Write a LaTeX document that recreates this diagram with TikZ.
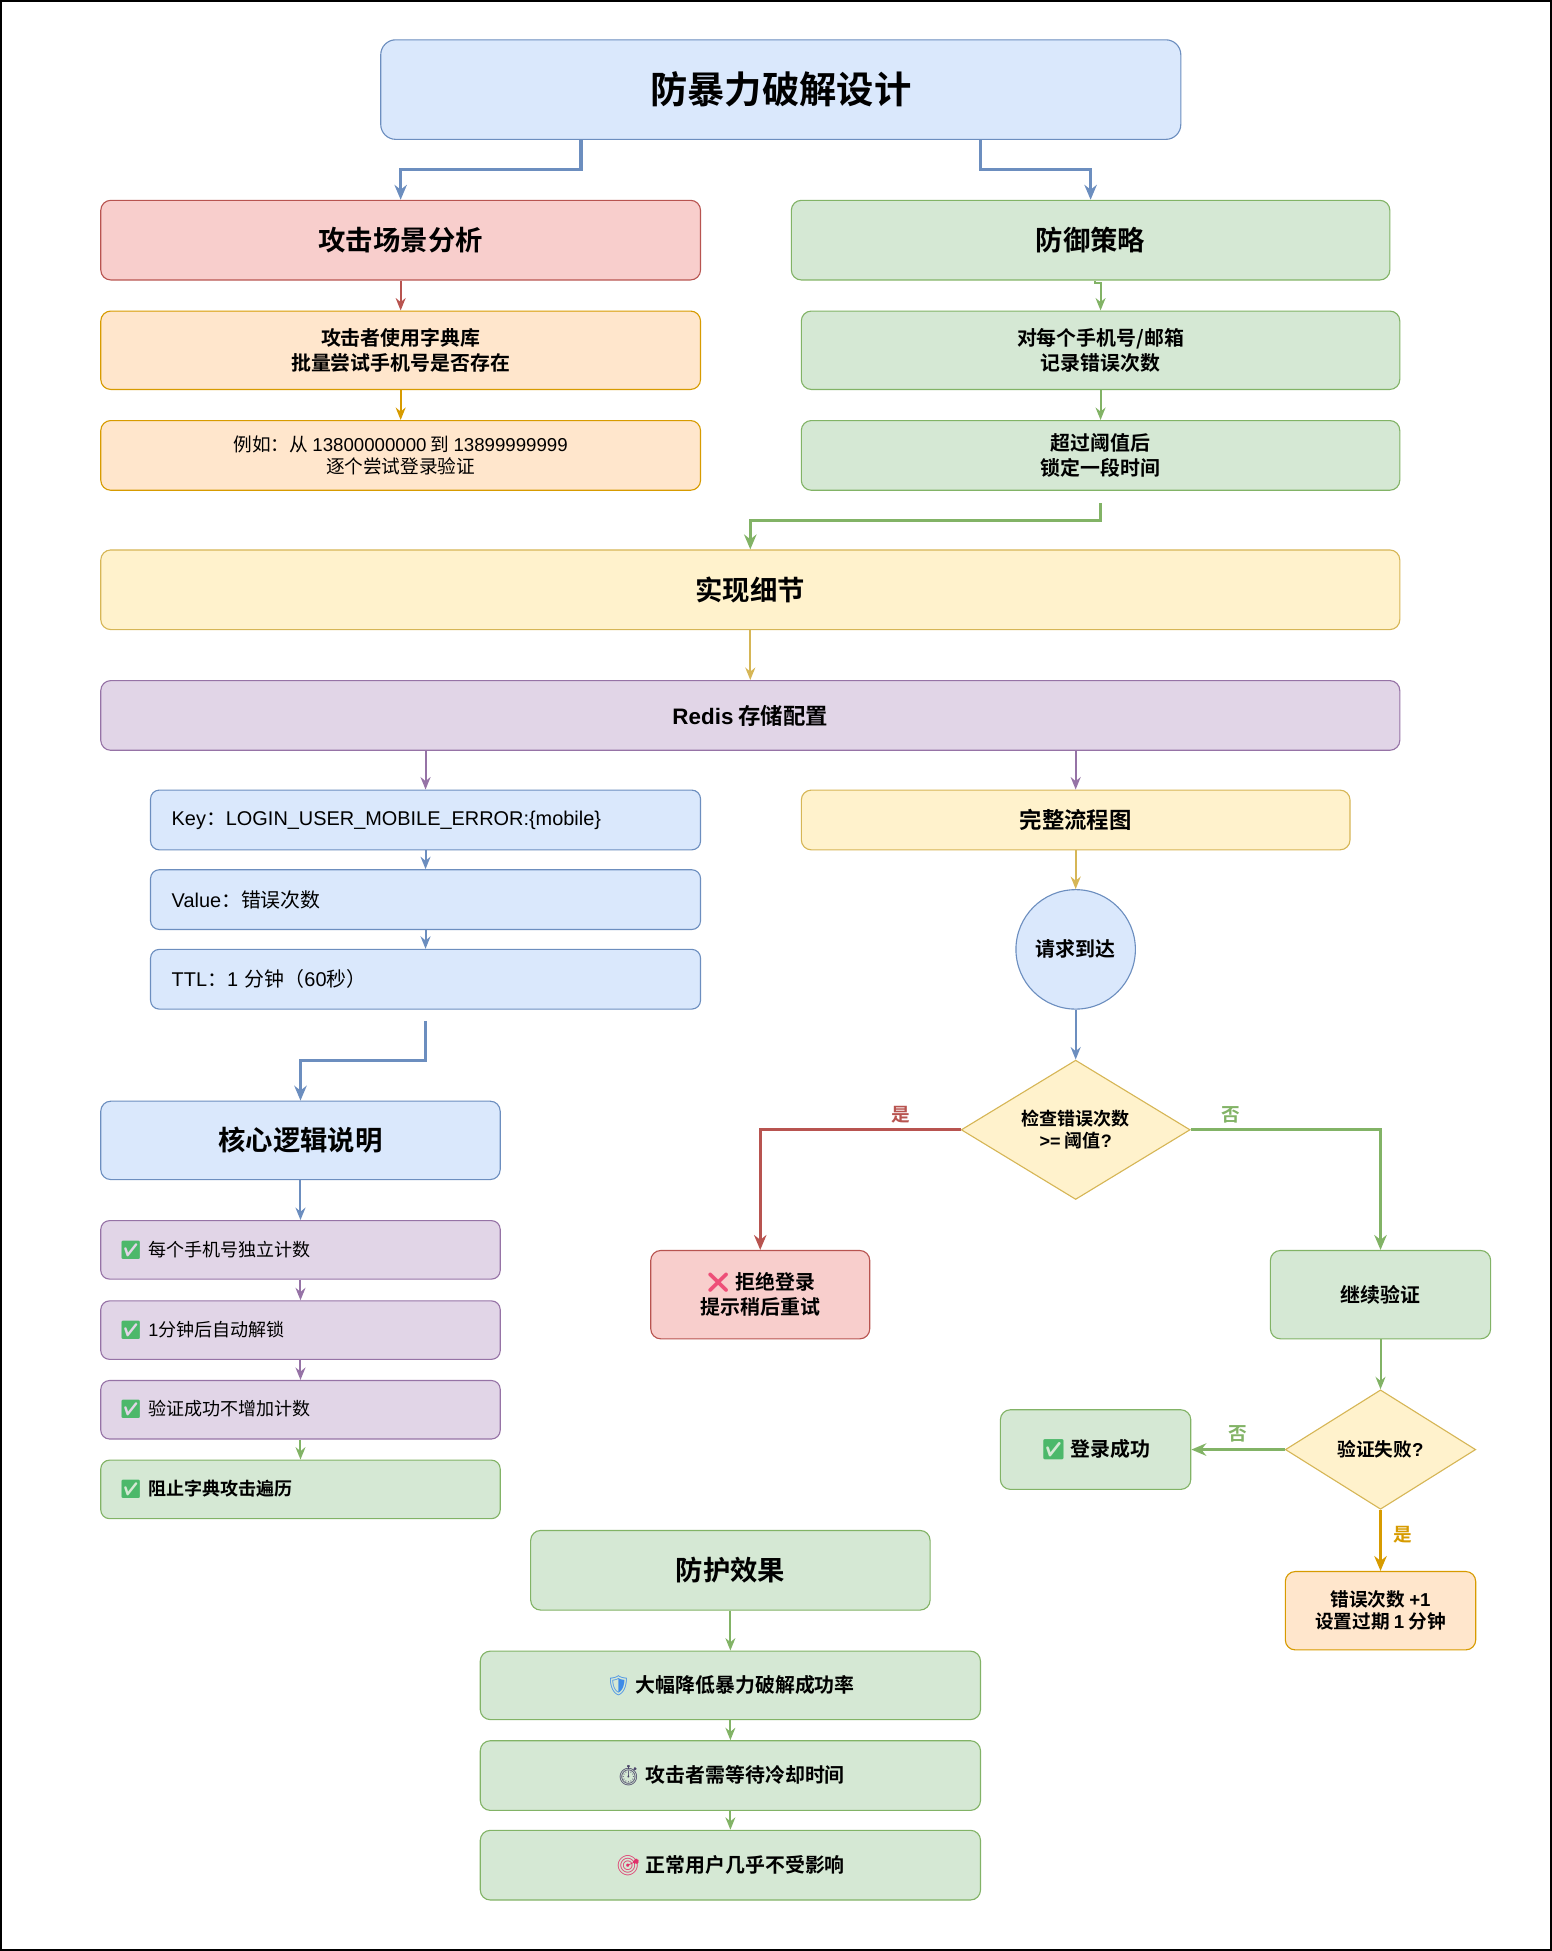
\documentclass[tikz,border=0pt]{standalone}
\usepackage{fontspec}
\setmainfont{Liberation Sans}
\newfontfamily\cjk{Noto Sans CJK SC}[BoldFont={Noto Sans CJK SC Bold}]
\newfontfamily\latf{Liberation Sans}
\newfontfamily\emofont{Noto Emoji}
\newcommand\lat[1]{{\latf #1}}
\newcommand\emo[2]{{\emofont\textcolor{#1}{#2}}}
\usetikzlibrary{arrows.meta,shapes.geometric}
\definecolor{blueF}{HTML}{DAE8FC}\definecolor{blueD}{HTML}{6C8EBF}
\definecolor{redF}{HTML}{F8CECC}\definecolor{redD}{HTML}{B85450}
\definecolor{greenF}{HTML}{D5E8D4}\definecolor{greenD}{HTML}{82B366}
\definecolor{orangeF}{HTML}{FFE6CC}\definecolor{orangeD}{HTML}{D79B00}
\definecolor{yellowF}{HTML}{FFF2CC}\definecolor{yellowD}{HTML}{D6B656}
\definecolor{purpleF}{HTML}{E1D5E7}\definecolor{purpleD}{HTML}{9673A6}
\definecolor{okgreen}{HTML}{4CB86A}
\definecolor{xpink}{HTML}{EE4F78}
\definecolor{shieldblue}{HTML}{3D8BE8}
\definecolor{watchdark}{HTML}{4A4468}
\definecolor{targetred}{HTML}{E0306A}
\begin{document}
\begin{tikzpicture}[x=1pt,y=-1pt,
    box/.style={draw, rounded corners=8pt, align=center, inner sep=0pt, line width=0.9pt,
      font=\cjk\bfseries\fontsize{16}{20}\selectfont},
    head/.style={box, font=\cjk\bfseries\fontsize{22}{27}\selectfont},
    item/.style={draw, rounded corners=7pt, align=left, inner xsep=17pt, inner ysep=0pt,
      line width=0.9pt, text width=408pt, minimum height=48pt,
      font=\cjk\fontsize{16}{19}\selectfont},
    check/.style={item, inner xsep=15pt, text width=291pt, minimum height=47pt,
      font=\cjk\fontsize{14.5}{18}\selectfont},
    bluebox/.style={fill=blueF, draw=blueD},
    redbox/.style={fill=redF, draw=redD},
    greenbox/.style={fill=greenF, draw=greenD},
    orangebox/.style={fill=orangeF, draw=orangeD},
    yellowbox/.style={fill=yellowF, draw=yellowD},
    purplebox/.style={fill=purpleF, draw=purpleD},
    conn/.style={-{Stealth[length=10pt,width=8pt]}, line width=1.6pt},
    elbow/.style={-{Stealth[length=12pt,width=10pt]}, line width=2.6pt},
    lbl/.style={font=\cjk\bfseries\fontsize{15}{18}\selectfont}]
  \useasboundingbox (0,0) rectangle (1247,1568);
  \draw[line width=1.5pt] (0.75,0.75) rectangle (1246.25,1567.25);

  \node[box, bluebox, rounded corners=12pt, minimum width=643pt, minimum height=80pt,
    font=\cjk\bfseries\fontsize{30}{36}\selectfont] (title) at (627.5,72) {防暴力破解设计};

  \node[head, redbox, minimum width=482pt, minimum height=64pt] (attack) at (322,193) {攻击场景分析};
  \node[box, orangebox, minimum width=482pt, minimum height=63pt] (attack1) at (322,281.5)
    {攻击者使用字典库\\批量尝试手机号是否存在};
  \node[box, orangebox, minimum width=482pt, minimum height=56pt,
    font=\cjk\fontsize{15}{18}\selectfont] (attack2) at (322,366)
    {例如：从 \lat{13800000000} 到 \lat{13899999999}\\逐个尝试登录验证};

  \node[head, greenbox, minimum width=481pt, minimum height=64pt] (defense) at (876.5,193) {防御策略};
  \node[box, greenbox, minimum width=481pt, minimum height=63pt] (defense1) at (884.5,281.5)
    {对每个手机号/邮箱\\记录错误次数};
  \node[box, greenbox, minimum width=481pt, minimum height=56pt] (defense2) at (884.5,366)
    {超过阈值后\\锁定一段时间};

  \node[head, yellowbox, minimum width=1044pt, minimum height=64pt] (impl) at (603,474) {实现细节};
  \node[box, purplebox, minimum width=1044pt, minimum height=56pt,
    font=\cjk\bfseries\fontsize{18}{22}\selectfont] (redis) at (603,575) {\lat{Redis} 存储配置};

  \node[item, bluebox] (key) at (342,659) {\lat{Key}：\lat{LOGIN\_USER\_MOBILE\_ERROR:\{mobile\}}};
  \node[item, bluebox] (value) at (342,723) {\lat{Value}：错误次数};
  \node[item, bluebox] (ttl) at (342,787) {\lat{TTL}：\lat{1} 分钟（\lat{60}秒）};

  \node[box, yellowbox, minimum width=441pt, minimum height=48pt,
    font=\cjk\bfseries\fontsize{18}{22}\selectfont] (flow) at (864.5,659) {完整流程图};
  \node[circle, draw=blueD, fill=blueF, line width=0.9pt, minimum size=96pt, inner sep=0pt,
    font=\cjk\bfseries\fontsize{16}{20}\selectfont] (request) at (864.5,763) {请求到达};
  \node[diamond, draw=yellowD, fill=yellowF, line width=0.9pt, aspect=1.64, inner sep=0pt,
    minimum width=184pt, minimum height=112pt, align=center,
    font=\cjk\bfseries\fontsize{14.5}{18}\selectfont] (check) at (864.5,908)
    {检查错误次数\\\lat{>=} 阈值\lat{?}};
  \node[box, redbox, minimum width=176pt, minimum height=71pt] (reject) at (611,1040.5)
    {\emo{xpink}{❌} 拒绝登录\\提示稍后重试};
  \node[box, greenbox, minimum width=177pt, minimum height=71pt] (goon) at (1109.5,1040.5) {继续验证};
  \node[diamond, draw=yellowD, fill=yellowF, line width=0.9pt, aspect=1.6, inner sep=0pt,
    minimum width=153pt, minimum height=96pt, align=center,
    font=\cjk\bfseries\fontsize{15}{18}\selectfont] (fail) at (1109.5,1165) {验证失败\lat{?}};
  \node[box, greenbox, minimum width=153pt, minimum height=64pt] (success) at (880.5,1165)
    {\emo{okgreen}{✅} 登录成功};
  \node[box, orangebox, minimum width=153pt, minimum height=63pt,
    font=\cjk\bfseries\fontsize{15}{18}\selectfont] (count) at (1109.5,1294.5)
    {错误次数 \lat{+1}\\设置过期 \lat{1} 分钟};

  \node[head, bluebox, minimum width=321pt, minimum height=63pt] (core) at (241.5,916.5) {核心逻辑说明};
  \node[check, purplebox] (core1) at (241.5,1004.5) {\emo{okgreen}{✅} 每个手机号独立计数};
  \node[check, purplebox] (core2) at (241.5,1069) {\emo{okgreen}{✅} \lat{1}分钟后自动解锁};
  \node[check, purplebox] (core3) at (241.5,1133) {\emo{okgreen}{✅} 验证成功不增加计数};
  \node[check, greenbox, font=\cjk\bfseries\fontsize{14.5}{18}\selectfont] (core4) at (241.5,1197)
    {\emo{okgreen}{✅} 阻止字典攻击遍历};

  \node[head, greenbox, minimum width=321pt, minimum height=64pt] (effect) at (587,1262) {防护效果};
  \node[box, greenbox, minimum width=402pt, minimum height=55pt] (effect1) at (587,1354.5)
    {\emo{shieldblue}{🛡} 大幅降低暴力破解成功率};
  \node[box, greenbox, minimum width=402pt, minimum height=56pt] (effect2) at (587,1427)
    {\emo{watchdark}{⏱} 攻击者需等待冷却时间};
  \node[box, greenbox, minimum width=402pt, minimum height=56pt] (effect3) at (587,1499)
    {\emo{targetred}{🎯} 正常用户几乎不受影响};

  \begin{scope}[conn]
    \draw[elbow, blueD] ([xshift=-160.5pt]title.south) -- ++(0,24) -| (attack.north);
    \draw[elbow, blueD] ([xshift=160.5pt]title.south) -- ++(0,24) -| (defense.north);
    \draw[redD] (attack.south) -- (attack1.north);
    \draw[orangeD] (attack1.south) -- (attack2.north);
    \draw[greenD] ([xshift=3.5pt]defense.south) -- ++(0,2) -| (defense1.north);
    \draw[greenD] (defense1.south) -- (defense2.north);
    \draw[elbow, greenD] ([yshift=-10pt]defense2.south) -- ++(0,14) -| (impl.north);
    \draw[yellowD] (impl.south) -- (redis.north);
    \draw[purpleD] (key.north |- redis.south) -- (key.north);
    \draw[purpleD] (flow.north |- redis.south) -- (flow.north);
    \draw[blueD] (key.south) -- (value.north);
    \draw[blueD] (value.south) -- (ttl.north);
    \draw[elbow, blueD] ([yshift=-9pt]ttl.south) -- ++(0,32) -| (core.north);
    \draw[blueD] (core.south) -- (core1.north);
    \draw[purpleD] (core1.south) -- (core2.north);
    \draw[purpleD] (core2.south) -- (core3.north);
    \draw[greenD] (core3.south) -- (core4.north);
    \draw[yellowD] (flow.south) -- (request.north);
    \draw[blueD] (request.south) -- (check.north);
    \draw[elbow, redD] (check.west) -| node[lbl, text=redD, pos=0.15, above=1pt] {是} (reject.north);
    \draw[elbow, greenD] (check.east) -| node[lbl, text=greenD, pos=0.105, above=1pt] {否} (goon.north);
    \draw[greenD] (goon.south) -- (fail.north);
    \draw[elbow, greenD] (fail.west) -- node[lbl, text=greenD, above=1pt] {否} (success.east);
    \draw[elbow, orangeD] (fail.south) -- node[lbl, text=orangeD, pos=0.4, right=6pt] {是} (count.north);
    \draw[greenD] (effect.south) -- (effect1.north);
    \draw[greenD] (effect1.south) -- (effect2.north);
    \draw[greenD] (effect2.south) -- (effect3.north);
  \end{scope}
\end{tikzpicture}
\end{document}
